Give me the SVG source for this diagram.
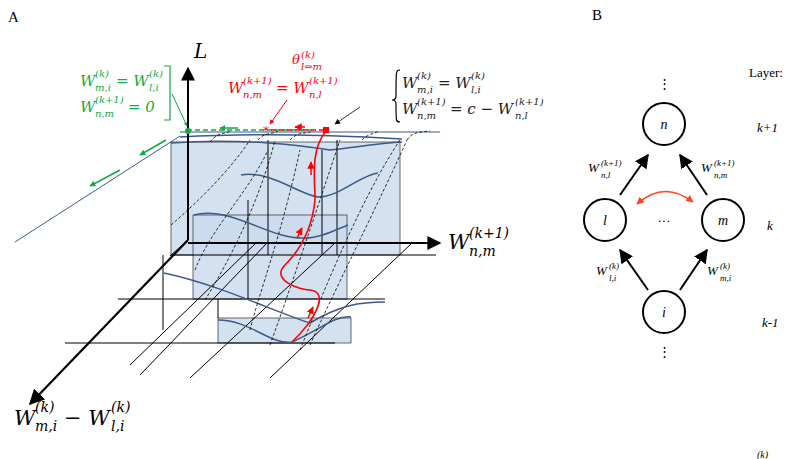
<svg xmlns="http://www.w3.org/2000/svg" width="796" height="459" viewBox="0 0 796 459">
<defs>
<marker id="ah" viewBox="0 0 10 10" refX="9" refY="5" markerWidth="7" markerHeight="7" orient="auto-start-reverse"><path d="M0,0L10,5L0,10z" fill="#000"/></marker>
<marker id="ahr" viewBox="0 0 10 10" refX="9" refY="5" markerWidth="5" markerHeight="5" orient="auto-start-reverse"><path d="M0,0L10,5L0,10z" fill="#f00"/></marker>
<marker id="ahg" viewBox="0 0 10 10" refX="9" refY="5" markerWidth="4" markerHeight="4" orient="auto"><path d="M0,0L10,5L0,10z" fill="#1a4"/></marker>
<marker id="aho" viewBox="0 0 10 10" refX="9" refY="5" markerWidth="5" markerHeight="5" orient="auto-start-reverse"><path d="M0,0L10,5L0,10z" fill="#f42"/></marker>
</defs>
<style>
.m{font-family:"DejaVu Serif","Liberation Serif",serif;font-style:italic}
.t{font-family:"Liberation Serif",serif}
.s{font-size:10px}
.box{fill:#c9d9ee;fill-opacity:.8;stroke:#444;stroke-width:.8}
.g{stroke:#000;stroke-width:1;fill:none}
.b{stroke:#3a5a8a;stroke-width:1.5;fill:none}
.d{stroke:#000;stroke-width:.8;stroke-dasharray:3,2;fill:none}
.node circle{fill:#fff;stroke:#000;stroke-width:2}
</style>
<rect width="796" height="459" fill="#fff"/>
<text x="8" y="22" class="t" font-size="15">A</text>
<text x="592" y="20" class="t" font-size="15">B</text>
<g id="panelA">
<line x1="15" y1="242" x2="180" y2="136" stroke="#3a5a8a" stroke-width="1"/>
<line x1="180" y1="132" x2="440" y2="132" stroke="#3a5a8a" stroke-width="1.2"/>
<rect class="box" x="171" y="142" width="229" height="113"/>
<rect class="box" x="193" y="215" width="154" height="84"/>
<rect class="box" x="218" y="318" width="133" height="25" stroke="none"/>
<path class="g" d="M171,255H436M118,299H385M65,343H335"/>
<path class="g" d="M163,330V255M218,318V299M248,299V200M268,255V140M322,255V150M337,255V140"/>
<path class="g" d="M188,240L170,256M257,242L130,365M268,242L140,375M335,243L190,378M412,243L270,378"/>
<path class="b" d="M180,137C250,133 330,135 402,139"/>
<path class="b" d="M171,143C240,138 300,145 330,150C350,148 380,143 402,142"/>
<path class="b" d="M241,175C270,170 300,195 318,197C340,197 360,175 378,173"/>
<path class="b" d="M194,215C230,205 270,240 305,238C320,238 335,230 348,225"/>
<path class="b" d="M164,273C220,285 270,310 310,323C340,305 360,302 385,302"/>
<path class="b" d="M218,320C250,320 270,345 292,342C320,330 335,315 351,317"/>
<path class="d" d="M210,142C220,130 225,135 230,131M258,140C265,132 270,135 278,131M290,140C300,130 305,135 312,131M362,140C370,132 374,135 378,131M407,140C412,132 420,132 430,131"/>
<path class="d" d="M171,225C200,200 230,170 250,140M195,270C210,230 250,190 268,150M205,300C230,260 260,200 275,140M250,330C260,290 280,240 300,150M270,345C290,290 320,200 340,140M300,350C320,300 360,200 400,140M310,345C330,300 380,200 407,140"/>
<line x1="188" y1="240" x2="30" y2="404" stroke="#000" stroke-width="2.2" marker-end="url(#ah)"/>
<line x1="188" y1="240" x2="188" y2="68" stroke="#000" stroke-width="2" marker-end="url(#ah)"/>
<line x1="188" y1="243" x2="440" y2="243" stroke="#000" stroke-width="2" marker-end="url(#ah)"/>
<path d="M326,131C310,150 315,180 315,200C312,230 300,250 285,265C270,280 300,290 310,290C330,292 315,320 292,342" stroke="#f00" stroke-width="1.6" fill="none"/>
<path d="M312,130 H190" stroke="#1a4" stroke-width="1.5" stroke-dasharray="5,3"/>
<path d="M324,130 H268" stroke="#f00" stroke-width="1.5" stroke-dasharray="5,3"/>
<rect x="323" y="127" width="6" height="6" fill="#f00"/>
<circle cx="188" cy="131" r="3" fill="#1a4"/>
<text x="263" y="135" fill="#f00" font-size="12" font-family="DejaVu Sans,sans-serif">*</text>
<line x1="238" y1="128" x2="220" y2="128" stroke="#1a4" stroke-width="1.5" marker-end="url(#ahg)"/>
<line x1="166" y1="140" x2="140" y2="155" stroke="#1a4" stroke-width="1.5" marker-end="url(#ahg)"/>
<line x1="120" y1="170" x2="90" y2="186" stroke="#1a4" stroke-width="1.5" marker-end="url(#ahg)"/>
<line x1="305" y1="127" x2="295" y2="127" stroke="#f00" stroke-width="1.5" marker-end="url(#ahr)"/>
<line x1="311" y1="175" x2="311" y2="162" stroke="#f00" stroke-width="1.5" marker-end="url(#ahr)"/>
<line x1="297" y1="238" x2="302" y2="228" stroke="#f00" stroke-width="1.5" marker-end="url(#ahr)"/>
<line x1="308" y1="318" x2="313" y2="307" stroke="#f00" stroke-width="1.5" marker-end="url(#ahr)"/>
<line x1="172" y1="94" x2="187" y2="126" stroke="#1a4" stroke-width="1" marker-end="url(#ahg)"/>
<line x1="287" y1="100" x2="270" y2="124" stroke="#f00" stroke-width="1" marker-end="url(#ahr)"/>
<line x1="360" y1="107" x2="335" y2="124" stroke="#000" stroke-width=".8" marker-end="url(#ah)"/>
<path d="M164,66H170V120H164" stroke="#1a4" stroke-width="1.2" fill="none"/>
<path d="M400,70C396,70 396,70 396,96C396,100 393,100 392,100C393,100 396,100 396,104C396,122 396,122 400,122" stroke="#000" stroke-width="1.2" fill="none"/>
<g class="m" font-size="15">
<text x="194" y="58" font-size="20">L</text>
<g fill="#1a4">
<text x="80" y="86">W</text><text x="95" y="77" class="s">(k)</text><text x="95" y="91" class="s">m,i</text>
<text x="116" y="86">= W</text><text x="149" y="77" class="s">(k)</text><text x="149" y="91" class="s">l,i</text>
<text x="80" y="112">W</text><text x="95" y="103" class="s">(k+1)</text><text x="95" y="117" class="s">n,m</text>
<text x="128" y="112">= 0</text>
</g>
<g fill="#f00">
<text x="292" y="64" font-size="13">θ</text><text x="301" y="58" class="s">(k)</text><text x="301" y="70" class="s" font-size="9">l⇔m</text>
<text x="228" y="93">W</text><text x="243" y="84" class="s">(k+1)</text><text x="243" y="98" class="s">n,m</text>
<text x="276" y="93">= W</text><text x="309" y="84" class="s">(k+1)</text><text x="309" y="98" class="s">n,l</text>
</g>
<g fill="#222">
<text x="402" y="88">W</text><text x="417" y="79" class="s">(k)</text><text x="417" y="93" class="s">m,i</text>
<text x="438" y="88">= W</text><text x="471" y="79" class="s">(k)</text><text x="471" y="93" class="s">l,i</text>
<text x="402" y="114">W</text><text x="417" y="105" class="s">(k+1)</text><text x="417" y="119" class="s">n,m</text>
<text x="450" y="114">= c − W</text><text x="515" y="105" class="s">(k+1)</text><text x="515" y="119" class="s">n,l</text>
</g>
<text x="448" y="249" font-size="21">W</text><text x="469" y="238" font-size="14">(k+1)</text><text x="469" y="256" font-size="14">n,m</text>
<text x="14" y="425" font-size="21">W</text><text x="35" y="412" font-size="14">(k)</text><text x="35" y="431" font-size="14">m,i</text>
<text x="64" y="425" font-size="21">− W</text><text x="111" y="412" font-size="14">(k)</text><text x="111" y="431" font-size="14">l,i</text>
</g>
</g>
<g id="connectors" stroke="#000" stroke-width="2">
<line x1="620" y1="195" x2="648" y2="155" marker-end="url(#ah)"/>
<line x1="707" y1="195" x2="680" y2="155" marker-end="url(#ah)"/>
<line x1="648" y1="290" x2="620" y2="250" marker-end="url(#ah)"/>
<line x1="680" y1="290" x2="707" y2="250" marker-end="url(#ah)"/>
<path d="M637,204Q664,180 693,202" stroke="#f42" stroke-width="1.5" fill="none" marker-start="url(#aho)" marker-end="url(#aho)"/>
</g>
<g id="node-n" class="node"><circle cx="664" cy="124" r="21"/><text x="664" y="129" class="t" font-style="italic" font-size="14" text-anchor="middle">n</text></g>
<g id="node-l" class="node"><circle cx="605" cy="220" r="21"/><text x="605" y="225" class="t" font-style="italic" font-size="14" text-anchor="middle">l</text></g>
<g id="node-m" class="node"><circle cx="723" cy="220" r="21"/><text x="723" y="225" class="t" font-style="italic" font-size="14" text-anchor="middle">m</text></g>
<g id="node-i" class="node"><circle cx="664" cy="312" r="21"/><text x="664" y="317" class="t" font-style="italic" font-size="14" text-anchor="middle">i</text></g>
<g class="t" font-size="13">
<text x="664" y="88" text-anchor="middle">⋮</text>
<text x="664" y="356" text-anchor="middle">⋮</text>
<text x="664" y="225" text-anchor="middle">···</text>
<text x="749" y="77">Layer:</text>
<g font-style="italic"><text x="757" y="132">k+1</text><text x="767" y="230">k</text><text x="762" y="327">k-1</text>
<text x="588" y="172">W</text><text x="601" y="166" font-size="9">(k+1)</text><text x="601" y="178" font-size="9">n,l</text>
<text x="701" y="172">W</text><text x="714" y="166" font-size="9">(k+1)</text><text x="714" y="178" font-size="9">n,m</text>
<text x="596" y="275">W</text><text x="609" y="269" font-size="9">(k)</text><text x="609" y="281" font-size="9">l,i</text>
<text x="707" y="275">W</text><text x="720" y="269" font-size="9">(k)</text><text x="720" y="281" font-size="9">m,i</text>
<text x="757" y="458" font-size="10">(k)</text></g>
</g>
</svg>
